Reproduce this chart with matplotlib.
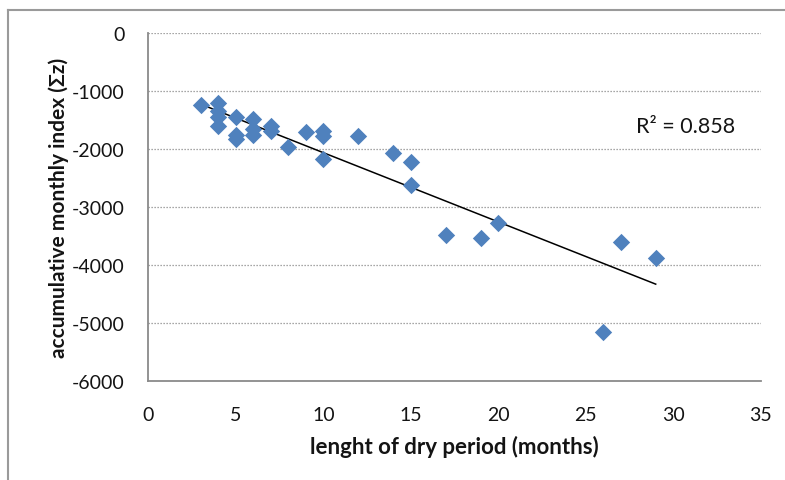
import numpy as np
import matplotlib
matplotlib.use('Agg')
import matplotlib.pyplot as plt
from matplotlib.lines import Line2D

# dry period length (months) vs accumulative monthly index
months = [3, 4, 4, 4, 4, 5, 5, 5, 6, 6, 6, 7, 7, 8, 9, 10, 10, 10,
          12, 14, 15, 15, 17, 19, 20, 26, 27, 29]
sum_z = [-1240, -1200, -1350, -1450, -1600, -1450, -1750, -1830,
         -1480, -1650, -1750, -1600, -1680, -1970, -1710, -1690,
         -1770, -2170, -1770, -2060, -2220, -2620, -3490, -3540,
         -3280, -5150, -3610, -3880]
r2_label = 'R² = 0.858'
x_ticks = [0, 5, 10, 15, 20, 25, 30, 35]
y_ticks = [0, -1000, -2000, -3000, -4000, -5000, -6000]

plt.rcParams['font.family'] = ['Lato', 'DejaVu Sans']
plt.rcParams['axes.unicode_minus'] = False
text_color = '#141414'
grey = '#8a8a8a'

fig = plt.figure(figsize=(7.85, 4.81), dpi=100)
ax = fig.add_axes([0.189, 0.206, 0.780, 0.723])

# linear trend line
x = np.array(months, dtype=float)
y = np.array(sum_z, dtype=float)
slope, intercept = np.polyfit(x, y, 1)
xs = np.array([x.min(), x.max()])
ax.plot(xs, slope * xs + intercept, color='black', lw=1.1, zorder=3)

ax.scatter(months, sum_z, marker='D', s=78, color='#4F81BD', zorder=4,
           linewidths=0)

ax.text(30.7, -1600, r2_label, ha='center', va='center', fontsize=15.5,
        color=text_color)

ax.set_xlim(0, 35)
ax.set_ylim(-6000, 0)
ax.set_xticks(x_ticks)
ax.set_yticks(y_ticks)
ax.tick_params(length=0, labelsize=14, labelcolor=text_color)
ax.tick_params(axis='y', pad=17)
ax.tick_params(axis='x', pad=18)

for v in y_ticks[:-1]:
    ax.axhline(v, color=grey, lw=0.9, ls=(0, (1, 1.4)), zorder=1)

for side in ['top', 'right']:
    ax.spines[side].set_visible(False)
for side in ['left', 'bottom']:
    ax.spines[side].set_color(grey)
    ax.spines[side].set_linewidth(1.3)

ax.set_xlabel('lenght of dry period (months)', fontsize=16,
              fontweight='bold', color=text_color, labelpad=9)
ax.set_ylabel('accumulative monthly index (Σz)', fontsize=15,
              fontweight='bold', color=text_color, labelpad=2)

# outer chart frame (only top and left edges fall inside the picture)
fig.add_artist(Line2D([8 / 785, 1], [1 - 11 / 481, 1 - 11 / 481],
                      transform=fig.transFigure, color='#9a9a9a', lw=1.5))
fig.add_artist(Line2D([8 / 785, 8 / 785], [0, 1 - 11 / 481],
                      transform=fig.transFigure, color='#9a9a9a', lw=1.5))

plt.savefig('out.png', dpi=100)
plt.close()
